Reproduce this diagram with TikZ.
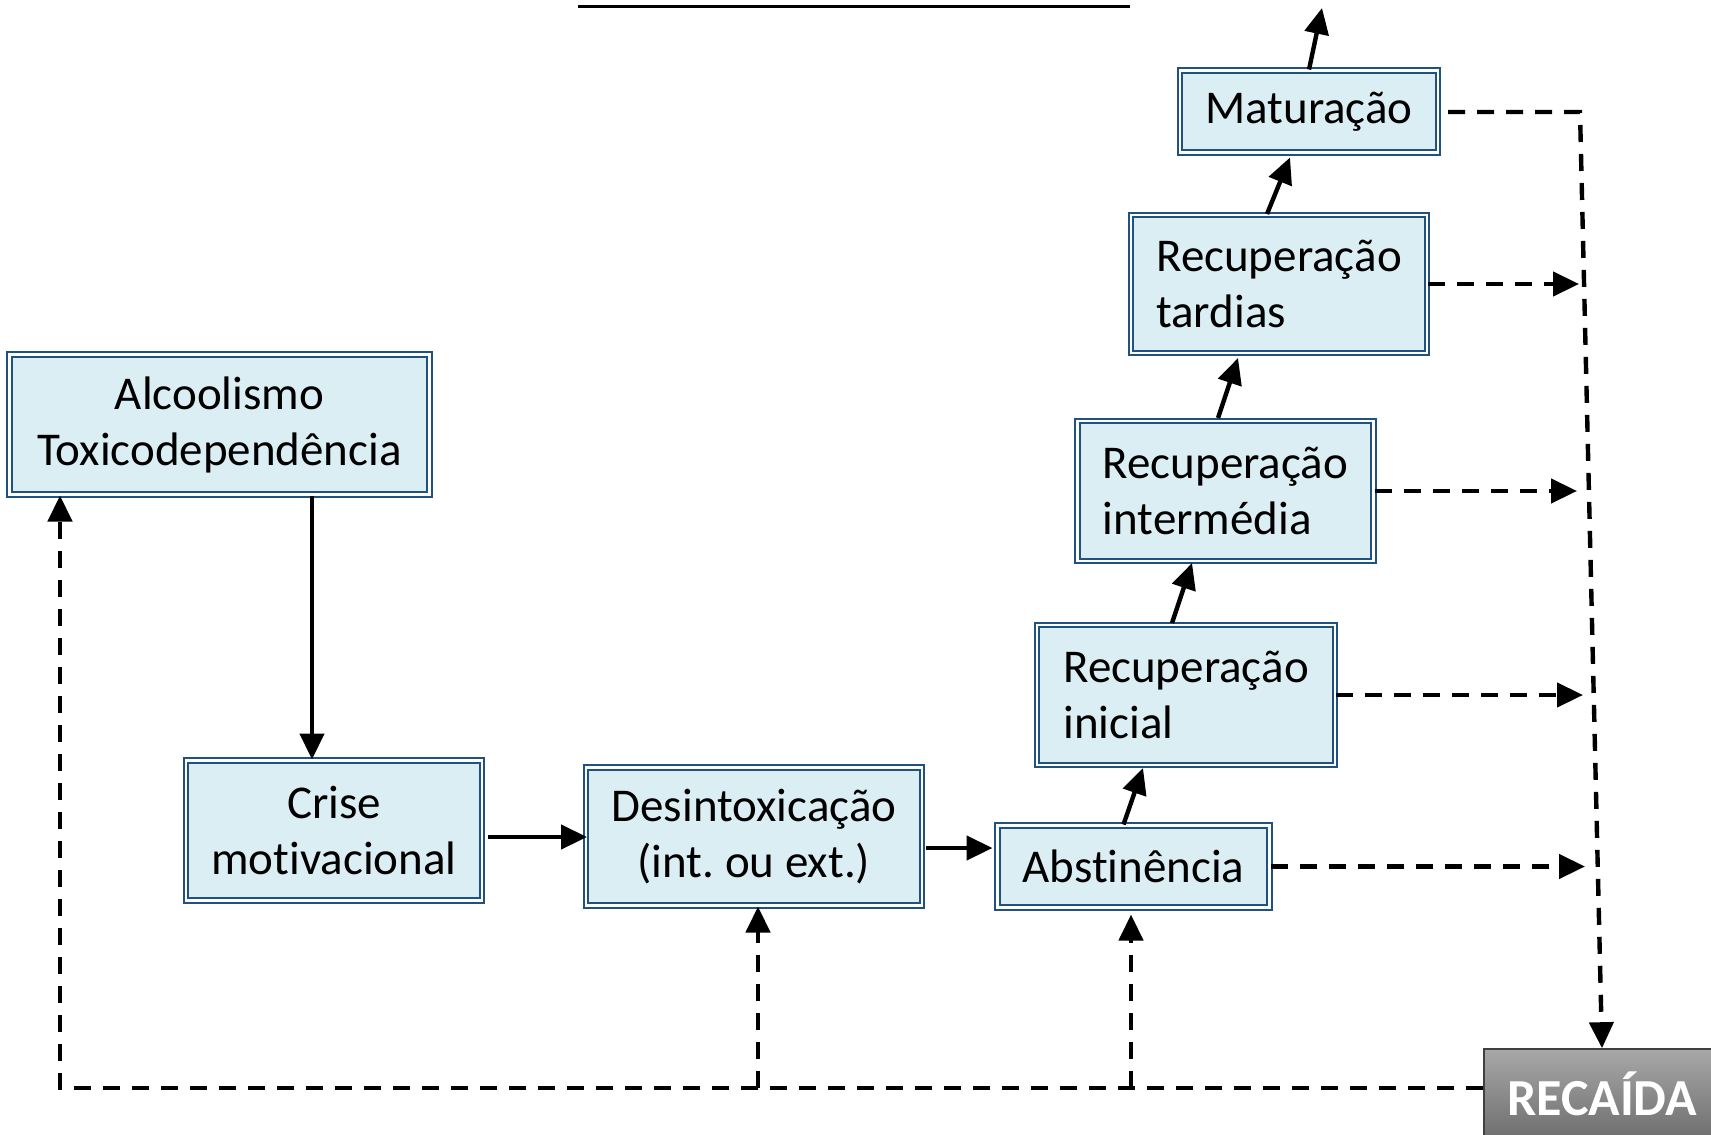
\documentclass[tikz,border=0pt]{standalone}
\usepackage{fontspec}
\setmainfont{Carlito}[Ligatures=NoCommon]
\usepackage{tikz}
\usetikzlibrary{arrows.meta, calc}
\frenchspacing

\definecolor{azul}{RGB}{31,82,128}
\definecolor{azulclaro}{RGB}{218,238,243}
\definecolor{cinzaclaro}{RGB}{168,168,168}
\definecolor{cinzaescuro}{RGB}{110,110,110}

\begin{document}
\begin{tikzpicture}[x=0.5pt, y=-0.5pt,
    >={Triangle[length=13pt, width=12pt]},
    etapa/.style={draw=azul, double=white, double distance=1.1pt, line width=1pt,
        fill=azulclaro, inner sep=0pt, font=\fontsize{23.5}{28}\selectfont},
    recaida/.style={draw=black!75, line width=0.8pt, top color=cinzaclaro,
        bottom color=cinzaescuro, text=white, inner sep=0pt,
        font=\bfseries\fontsize{26}{30}\selectfont},
    seta/.style={line width=2.2pt, ->},
    tracejado/.style={line width=2.2pt, dash pattern=on 8.5pt off 6pt, ->}]
            \useasboundingbox (0,0) rectangle (1711,1134);
            \clip (0,0) rectangle (1711,1134);
            % etapas
            \node[etapa, minimum width=210pt, minimum height=70pt, align=center] (alcool) at (219.5,424.5) {Alcoolismo\\Toxicodependência};
            \node[etapa, minimum width=148pt, minimum height=70pt, align=center] (crise) at (334,830.5) {Crise\\motivacional};
            \node[etapa, minimum width=168pt, minimum height=69pt, align=center] (desintox) at (754,836.5) {Desintoxicação\\(int. ou ext.)};
            \node[etapa, minimum width=136pt, minimum height=41pt] (abst) at (1133.5,866.5) {Abstinência};
            \node[etapa, minimum width=149pt, minimum height=70pt, align=left] (rinicial) at (1186,695) {Recuperação\\inicial};
            \node[etapa, minimum width=148pt, minimum height=70pt, align=left] (rinter) at (1225.5,491) {Recuperação\\intermédia};
            \node[etapa, minimum width=148pt, minimum height=69pt, align=left] (rtardias) at (1279,284) {Recuperação\\tardias};
            \node[etapa, minimum width=129pt, minimum height=41pt] (matur) at (1309,111.5) {Maturação};
            \node[recaida, minimum width=118pt, minimum height=45pt] (recaida) at (1602,1094) {RECAÍDA};
            \coordinate (topo) at (1322,8);
            \coordinate (canto) at (1580,112);
            \coordinate (p3) at (1579,284);
            \coordinate (p2) at (1577,491);
            \coordinate (p1) at (1583,695);
            \coordinate (p0) at (1585,866.5);
            \coordinate (esq) at (60,1088);
            \coordinate (bd) at (758,1088);
            \coordinate (ba) at (1131,1088);
            \draw[line width=1.5pt] (578,7) -- (1130,7);
            % percurso
            \draw[seta] ($(alcool.south)+(92.5,0)$) -- ($(crise.north)+(-22,0)$);
            \draw[seta] ($(crise.east)+(5,6.5)$) -- ($(desintox.west)+(2,0.5)$);
            \draw[seta] ($(desintox.east)+(3,11.5)$) -- ($(abst.west)+(-4,-18.5)$);
            \draw[seta] ($(abst.north)+(-10,0)$) -- ($(rinicial.south)+(-43,2)$);
            \draw[seta] ($(rinicial.north)+(-14,-1)$) -- ($(rinter.south)+(-33.5,1)$);
            \draw[seta] ($(rinter.north)+(-7.5,-2)$) -- ($(rtardias.south)+(-41,4)$);
            \draw[seta] ($(rtardias.north)+(-12,0)$) -- ($(matur.south)+(-19,4)$);
            \draw[seta] (matur.north) -- (topo);
            % recaidas
            \draw[tracejado] ($(matur.east)+(9,0.5)$) -- (canto) -- (recaida.north);
            \draw[tracejado] (rtardias.east) -- (p3);
            \draw[tracejado] (rinter.east) -- (p2);
            \draw[tracejado] (rinicial.east) -- (p1);
            \draw[tracejado] (abst.east) -- (p0);
            \draw[tracejado] ($(recaida.west)+(0,-6)$) -- (esq) -- (esq |- alcool.south);
            \draw[tracejado] (bd) -- (bd |- desintox.south);
            \draw[tracejado] (ba) -- ($(ba |- abst.south)+(0,6)$);
        \end{tikzpicture}
\end{document}
